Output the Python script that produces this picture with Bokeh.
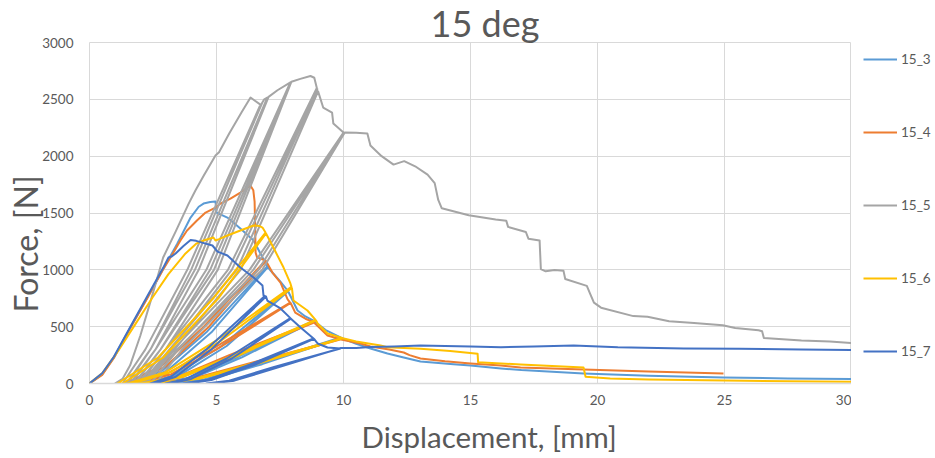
import math
from bokeh.plotting import figure
from bokeh.layouts import row
from bokeh.models import Range1d, FixedTicker, Legend, LegendItem, Title
from bokeh.embed import file_html
from bokeh.resources import INLINE

# ---------------- data ----------------
series_names = ["15_3", "15_4", "15_5", "15_6", "15_7"]
series_colors = ["#5B9BD5", "#ED7D31", "#A5A5A5", "#FFC000", "#4472C4"]
x_ticks = [0, 5, 10, 15, 20, 25, 30]
y_ticks = [0, 500, 1000, 1500, 2000, 2500, 3000]

# (displacement mm, force N) including unload/reload cycles
pts_15_3 = [(0, 0), (0.5, 80), (0.96, 229), (1.61, 493), (2.28, 757), (2.93, 1020), (3.46, 1231),
            (3.98, 1460), (4.3, 1555), (4.49, 1583), (4.75, 1597), (4.96, 1601), (5.0, 1504),
            (5.43, 1460), (5.94, 1363), (6.46, 1258), (6.73, 1144), (7.0, 1030),
            (4.6, 450), (2.9, 120), (1.8, 0), (2.0, 0), (3.1, 120), (4.8, 450), (7.02, 1025),
            (7.13, 994), (7.5, 900), (7.8, 818),
            (5.2, 330), (3.4, 80), (2.3, 0), (2.5, 0), (3.6, 80), (5.4, 330), (7.82, 812),
            (8.19, 642), (8.5, 590), (8.82, 554),
            (5.8, 230), (3.9, 50), (2.8, 0), (3.0, 0), (4.1, 50), (6.0, 230), (8.84, 550),
            (9.3, 470), (9.88, 405),
            (6.6, 170), (4.5, 35), (3.3, 0), (3.5, 0), (4.7, 35), (6.8, 170), (9.9, 402),
            (10.5, 350), (11.06, 308), (11.73, 264), (12.37, 229), (13.03, 194), (14.33, 170),
            (15.0, 158), (16.2, 132), (17.0, 118), (19.45, 88), (22.0, 68), (24.96, 53),
            (27.5, 45), (30.0, 40)]

pts_15_4 = [(0, 0), (0.5, 75), (0.96, 225), (1.61, 490), (2.28, 752), (2.93, 1015), (3.3, 1150),
            (3.58, 1258), (3.84, 1346), (4.23, 1434), (4.57, 1504), (4.96, 1548), (5.16, 1583),
            (5.55, 1627), (5.94, 1680), (6.2, 1720), (6.34, 1740), (6.45, 1700), (6.5, 1600),
            (6.52, 1400), (6.54, 1150), (6.6, 1110), (6.93, 1082),
            (4.5, 500), (2.8, 150), (1.4, 0), (1.6, 0), (3.0, 150), (4.7, 500), (6.95, 1078),
            (7.2, 976), (7.52, 888), (7.8, 740), (7.9, 712),
            (4.8, 300), (3.0, 80), (1.8, 0), (2.0, 0), (3.2, 80), (5.0, 300), (7.92, 708),
            (8.1, 624), (8.5, 570), (8.82, 540),
            (5.5, 250), (3.5, 60), (2.2, 0), (2.4, 0), (3.7, 60), (5.7, 250), (8.84, 536),
            (9.37, 422), (9.88, 390),
            (6.5, 190), (4.2, 50), (2.8, 0), (3.0, 0), (4.4, 50), (6.7, 190), (9.9, 388),
            (10.67, 352), (11.06, 325), (11.8, 300), (12.37, 273), (12.6, 250), (13.03, 220),
            (14.0, 195), (15.0, 176), (16.2, 158), (16.97, 141), (19.45, 123), (22.0, 105),
            (24.96, 88)]

pts_15_5 = [(1.0, 0), (1.3, 40), (1.6, 160), (2.0, 420), (2.4, 720), (2.9, 1108), (3.4, 1340),
            (3.9, 1580), (4.17, 1698), (4.5, 1830), (4.96, 2006), (5.1, 2035), (5.5, 2200),
            (6.0, 2390), (6.34, 2516), (6.5, 2490), (6.73, 2454),
            (3.85, 1000), (2.2, 300), (1.3, 0), (1.5, 0), (2.4, 300), (4.0, 1000), (6.8, 2470),
            (6.88, 2500), (7.0, 2516),
            (4.15, 1000), (2.4, 300), (1.45, 0), (1.65, 0), (2.6, 300), (4.3, 1000), (7.05, 2522),
            (7.4, 2580), (7.91, 2650),
            (4.6, 1000), (2.6, 300), (1.6, 0), (1.8, 0), (2.8, 300), (4.75, 1000), (7.93, 2652),
            (4.9, 1000), (2.8, 300), (1.75, 0), (1.95, 0), (3.0, 300), (5.05, 1000), (7.95, 2655),
            (8.3, 2680), (8.7, 2705), (8.85, 2690), (8.95, 2600),
            (5.45, 1000), (3.0, 300), (1.9, 0), (2.1, 0), (3.2, 300), (5.6, 1000), (8.97, 2590),
            (5.8, 1000), (3.15, 300), (2.05, 0), (2.25, 0), (3.35, 300), (5.95, 1000), (9.0, 2570),
            (9.2, 2428), (9.55, 2384), (9.6, 2287), (10.0, 2208),
            (6.3, 1000), (3.3, 300), (2.2, 0), (2.4, 0), (3.5, 300), (6.45, 1000), (10.02, 2208),
            (6.65, 1000), (3.45, 300), (2.4, 0), (2.6, 0), (3.65, 300), (6.8, 1000), (10.05, 2208),
            (10.5, 2205), (10.94, 2199), (11.06, 2094), (11.5, 2000), (11.97, 1926),
            (12.39, 1956), (12.82, 1911), (13.31, 1837), (13.59, 1763), (13.73, 1615),
            (13.87, 1541), (14.93, 1481), (15.99, 1443), (16.41, 1431), (16.48, 1378),
            (17.18, 1333), (17.28, 1274), (17.72, 1259), (17.77, 1007), (17.96, 987),
            (18.31, 999), (18.66, 993), (18.73, 919), (19.58, 859), (19.72, 785), (19.86, 711),
            (20.14, 667), (21.41, 593), (21.97, 587), (22.82, 548), (23.8, 533), (24.93, 513),
            (25.42, 489), (26.34, 468), (26.48, 459), (26.55, 400), (28.03, 379), (29.15, 370),
            (30.0, 355)]

pts_15_6 = [(0, 0), (0.5, 90), (1.14, 290), (1.8, 520), (2.48, 757), (3.1, 960), (3.78, 1144),
            (4.2, 1230), (4.49, 1258), (4.88, 1284), (4.96, 1258), (5.1, 1270), (5.43, 1302),
            (5.94, 1346), (6.46, 1390), (6.7, 1385), (6.81, 1372), (6.93, 1328),
            (4.9, 757), (2.7, 229), (1.1, 0), (1.3, 0), (2.9, 229), (5.1, 757), (6.95, 1320),
            (7.24, 1196), (7.64, 1020), (7.91, 880), (7.95, 850),
            (5.0, 380), (3.0, 100), (1.5, 0), (1.7, 0), (3.2, 100), (5.2, 380), (7.97, 840),
            (8.03, 730), (8.58, 642), (8.9, 560),
            (5.6, 240), (3.5, 60), (2.0, 0), (2.2, 0), (3.7, 60), (5.8, 240), (8.92, 555),
            (8.98, 528), (9.37, 440), (9.95, 400),
            (6.5, 180), (4.2, 45), (2.6, 0), (2.8, 0), (4.4, 45), (6.7, 180), (9.97, 398),
            (10.5, 370), (11.46, 334), (11.73, 319), (13.03, 305), (14.2, 285), (15.28, 261),
            (15.3, 188), (16.2, 176), (16.97, 167), (19.45, 141), (19.53, 60), (20.5, 45),
            (22.0, 35), (24.96, 26), (27.5, 20), (30.0, 15)]

pts_15_7 = [(0, 0), (0.5, 90), (0.96, 235), (1.61, 500), (2.28, 770), (2.93, 1030), (3.11, 1108),
            (3.25, 1120), (3.39, 1144), (3.7, 1210), (3.98, 1262), (4.2, 1255), (4.5, 1235),
            (4.84, 1214), (5.04, 1160), (5.43, 1126), (5.94, 1020), (6.46, 933), (6.81, 862),
            (6.85, 774), (6.9, 770),
            (4.6, 300), (3.2, 60), (2.4, 0), (2.6, 0), (3.4, 60), (4.8, 300), (6.95, 765),
            (7.0, 730), (7.52, 660), (7.91, 575),
            (5.4, 220), (3.8, 40), (3.0, 0), (3.2, 0), (4.0, 40), (5.6, 220), (7.93, 570),
            (8.31, 493), (8.82, 396),
            (6.3, 165), (4.6, 30), (3.7, 0), (3.9, 0), (4.8, 30), (6.5, 165), (8.84, 392),
            (8.98, 352), (9.37, 317), (9.88, 308),
            (7.2, 140), (5.5, 25), (4.6, 0), (4.8, 0), (5.7, 25), (7.4, 140), (9.9, 312),
            (10.5, 312), (11.06, 322), (12.0, 326), (13.03, 334), (14.0, 330), (15.0, 326),
            (16.2, 320), (17.5, 326), (19.06, 334), (20.8, 318), (23.4, 308), (25.6, 306),
            (28.0, 300), (30.0, 295)]

all_pts = [pts_15_3, pts_15_4, pts_15_5, pts_15_6, pts_15_7]

# ---------------- main figure ----------------
FONT = "Lato"
TXT = "#595959"
GRID = "#D9D9D9"

p = figure(width=851, height=458, output_backend="svg", toolbar_location=None,
           x_range=Range1d(0, 30), y_range=Range1d(0, 3000),
           min_border_left=89, min_border_right=0, min_border_top=42, min_border_bottom=75)
p.background_fill_color = "white"
p.border_fill_color = "white"
p.outline_line_color = GRID

p.title.text = "15 deg"
p.title.align = "left"
p.title.offset = 341
p.title.standoff = -4
p.title.text_font = FONT
p.title.text_font_size = "36px"
p.title.text_font_style = "normal"
p.title.text_color = TXT

p.xaxis.ticker = FixedTicker(ticks=x_ticks)
p.yaxis.ticker = FixedTicker(ticks=y_ticks)
for ax in (p.xaxis, p.yaxis):
    ax.major_tick_line_color = None
    ax.minor_tick_line_color = None
    ax.major_tick_out = 0
    ax.major_tick_in = 0
    ax.minor_tick_out = 0
    ax.minor_tick_in = 0
    ax.major_label_text_font = FONT
    ax.major_label_text_font_size = "13.5px"
    ax.major_label_text_color = TXT
p.xaxis.axis_line_color = GRID
p.xaxis.axis_line_width = 1.5
p.yaxis.axis_line_color = None
p.xaxis.major_label_standoff = 11
p.yaxis.major_label_standoff = 16
p.xgrid.grid_line_color = GRID
p.ygrid.grid_line_color = GRID

p.add_layout(Title(text="Displacement, [mm]", align="left", offset=272, vertical_align="top",
                   standoff=0, padding=dict(left=0, right=0, top=11, bottom=0),
                   text_font=FONT, text_font_size="29.5px",
                   text_font_style="normal", text_color=TXT), "below")
p.add_layout(Title(text="Force, [N]", align="left", offset=71, standoff=-10,
                   text_font=FONT, text_font_size="32px",
                   text_font_style="normal", text_color=TXT), "left")

for name, col, pts in zip(series_names, series_colors, all_pts):
    xs = [a for a, b in pts]
    ys = [b for a, b in pts]
    p.line(xs, ys, line_color=col, line_width=2, line_join="round")

# ---------------- legend strip on the right ----------------
pl = figure(width=84, height=458, output_backend="svg", toolbar_location=None,
            x_range=Range1d(0, 1), y_range=Range1d(0, 1),
            min_border_left=0, min_border_right=0, min_border_top=0, min_border_bottom=0,
            x_axis_location=None, y_axis_location=None)
pl.outline_line_color = None
pl.grid.visible = False
pl.background_fill_color = "white"
pl.border_fill_color = "white"

nan = float("nan")
items = []
for name, col in zip(series_names, series_colors):
    r = pl.line([nan], [nan], line_color=col, line_width=2)
    items.append(LegendItem(label=name, renderers=[r]))

legend = Legend(items=items, location=(12, 22), orientation="vertical",
                spacing=53, glyph_width=34, glyph_height=20, label_height=20,
                label_standoff=4, padding=0, margin=0,
                border_line_color=None, background_fill_alpha=0,
                label_text_font=FONT, label_text_font_size="13.5px", label_text_color=TXT)
pl.add_layout(legend)

layout = row(p, pl, spacing=0)
open("out.html", "w").write(file_html(layout, INLINE))
